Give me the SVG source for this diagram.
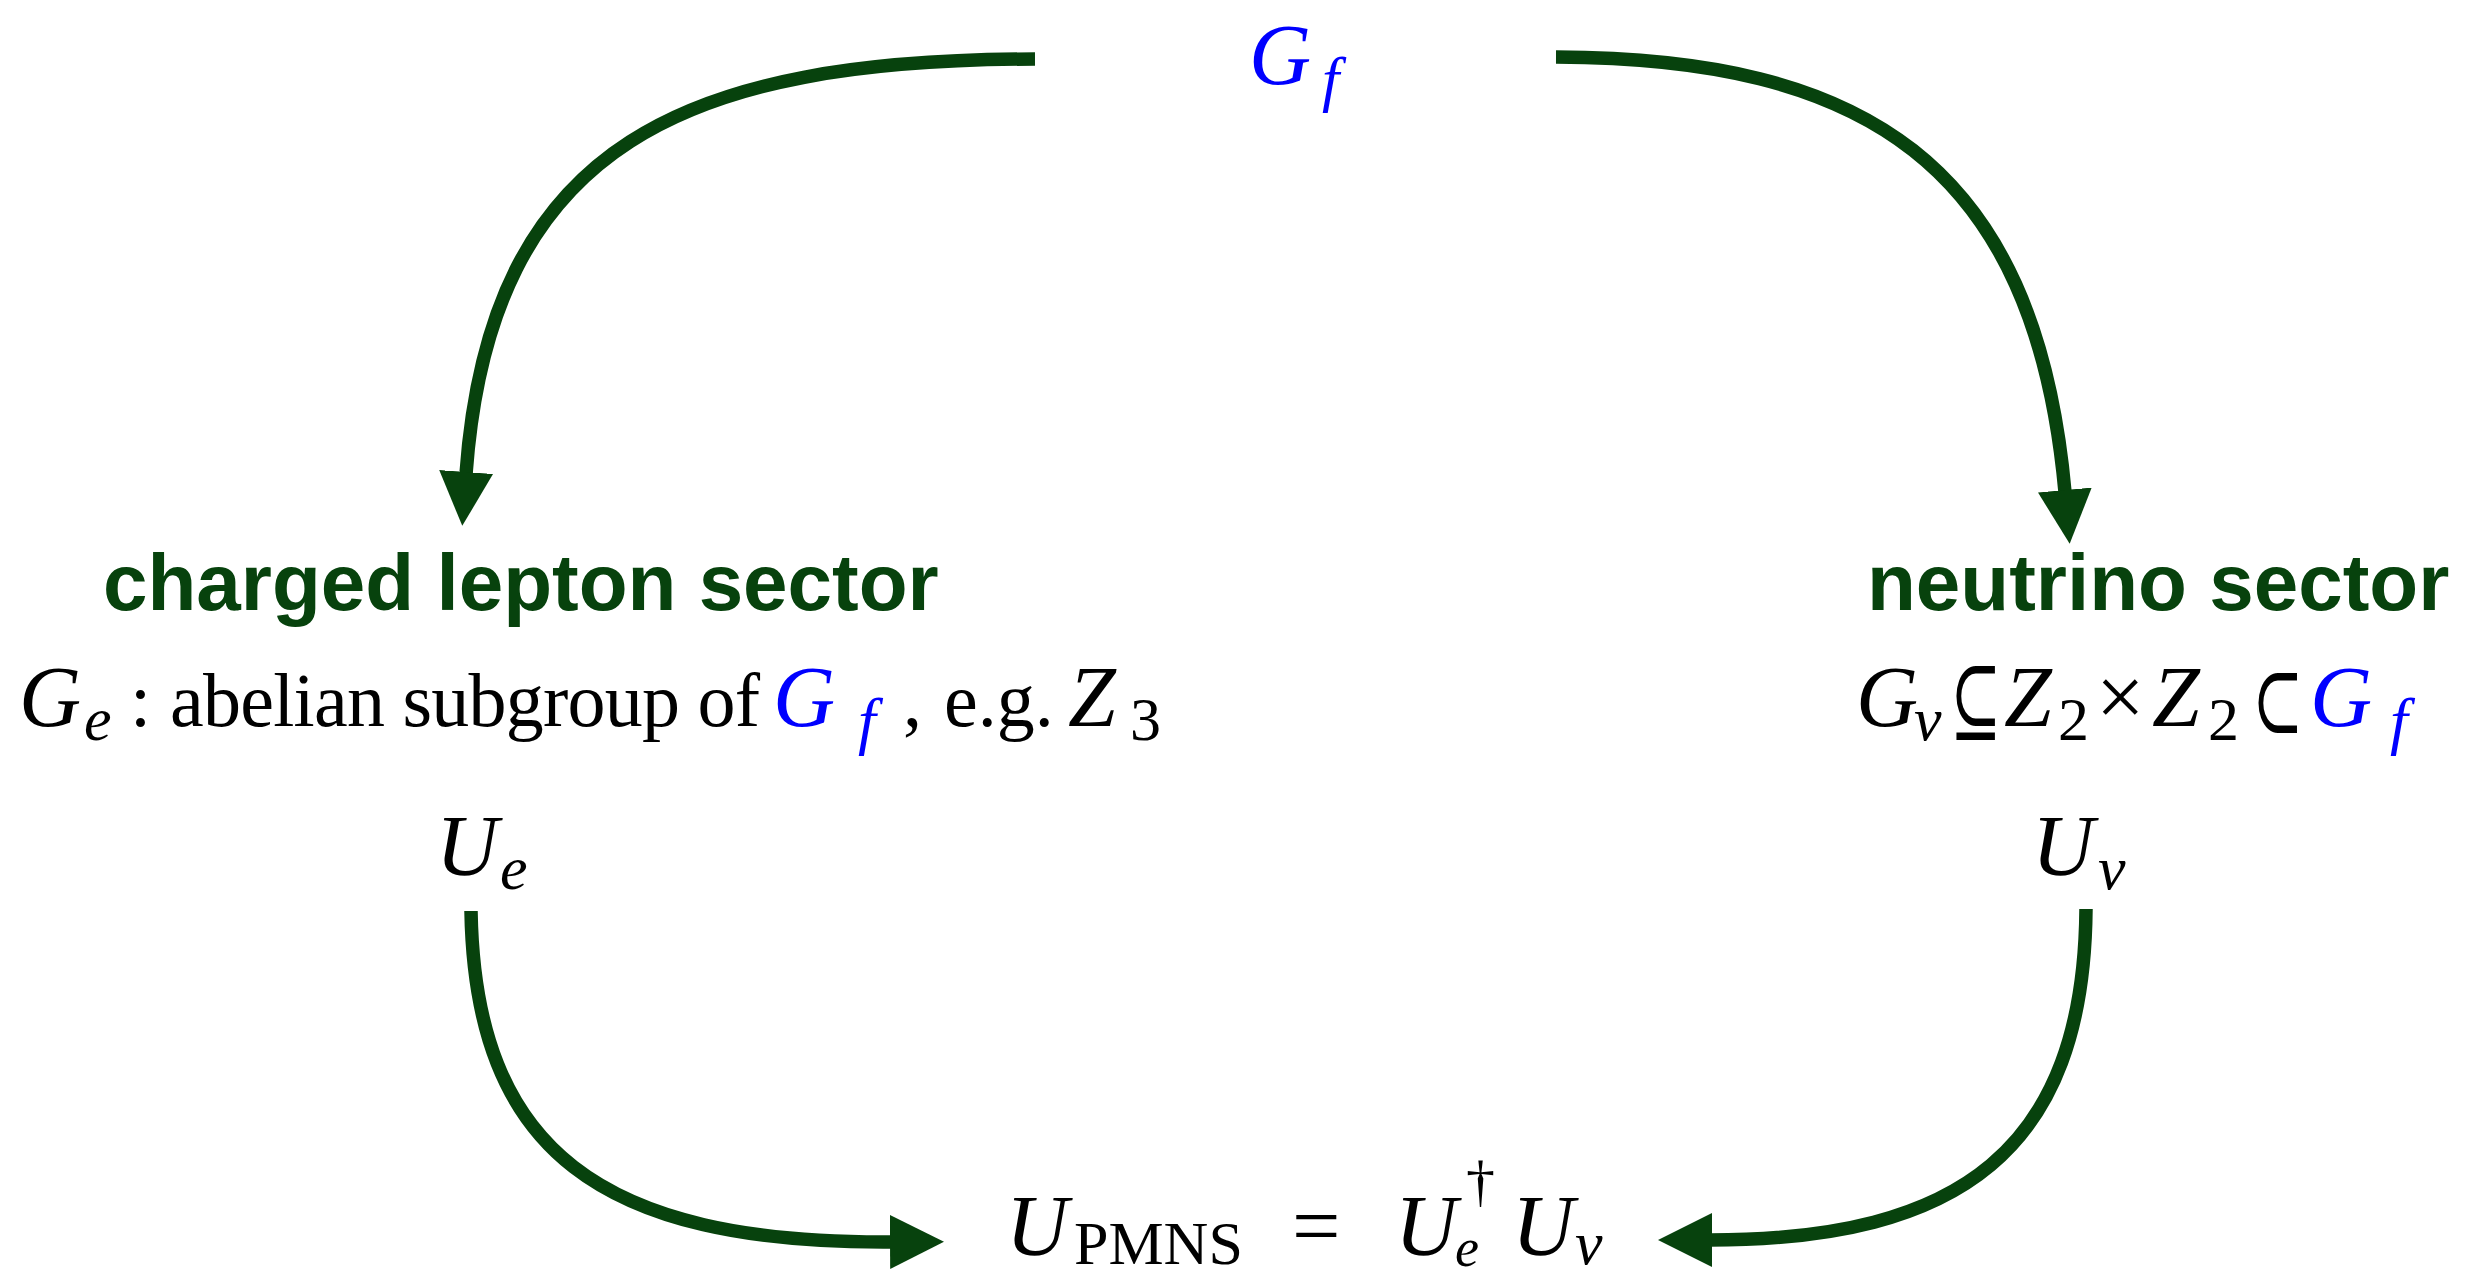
<svg xmlns="http://www.w3.org/2000/svg" width="2485" height="1278" viewBox="0 0 2485 1278">
<style>
.m{font-family:"Liberation Serif","DejaVu Serif",serif;fill:#000}
.i{font-style:italic}
.b{fill:#0000ff}
.big{font-size:86px}
.txt{font-size:76px}
.sub{font-size:62px}
.rel{font-family:"DejaVu Serif",serif;font-size:96px;fill:#000}
.h{font-family:"Liberation Sans",Arial,sans-serif;font-weight:bold;font-size:80px;fill:#07420d}
.c{fill:none;stroke:#07420d;stroke-width:13.5}
</style>
<defs>
<marker id="ah" markerUnits="userSpaceOnUse" markerWidth="56" markerHeight="54" refX="2" refY="27" orient="auto">
<path d="M0,0 L54,27 L0,54 z" fill="#07420d"/>
</marker>
</defs>
<g id="connectors">
<path class="c" d="M1035,59 C690,60 490,140 466,474" marker-end="url(#ah)"/>
<path class="c" d="M1556,57 C1860,58 2035,160 2065,492" marker-end="url(#ah)"/>
<path class="c" d="M471,911 C475,1150 600,1244 892,1242" marker-end="url(#ah)"/>
<path class="c" d="M2086,909 C2084,1150 1960,1240 1710,1240" marker-end="url(#ah)"/>
</g>
<g id="node-Gf">
<text class="m i b big" x="1249" y="84">G</text>
<text class="m i b sub" x="1322" y="100">f</text>
</g>
<g id="node-charged">
<text class="h" x="103" y="610">charged lepton sector</text>
<text class="m i big" x="19" y="726">G</text>
<text class="m i sub" x="84" y="740">e</text>
<text class="m txt" x="130" y="726">:</text>
<text class="m txt" x="170" y="726" textLength="590">abelian subgroup of</text>
<text class="m i b big" x="773" y="726">G</text>
<text class="m i b" style="font-size:64px" x="858" y="742">f</text>
<text class="m txt" x="903" y="726">,</text>
<text class="m txt" x="944" y="726">e.g.</text>
<text class="m i big" x="1068" y="726">Z</text>
<text class="m sub" x="1130" y="740">3</text>
<text class="m i big" x="436" y="875">U</text>
<text class="m i sub" x="500" y="889">e</text>
</g>
<g id="node-neutrino">
<text class="h" x="1867" y="610">neutrino sector</text>
<text class="m i big" x="1856" y="726">G</text>
<text class="m i sub" x="1914" y="740">ν</text>
<text class="rel" transform="translate(1950,733) scale(0.64,1)">⊆</text>
<text class="m i big" x="2004" y="726">Z</text>
<text class="m sub" x="2058" y="740">2</text>
<text class="m big" x="2096" y="726">×</text>
<text class="m i big" x="2152" y="726">Z</text>
<text class="m sub" x="2208" y="740">2</text>
<text class="rel" transform="translate(2252,733) scale(0.64,1)">⊂</text>
<text class="m i b big" x="2310" y="726">G</text>
<text class="m i b" style="font-size:64px" x="2390" y="742">f</text>
<text class="m i big" x="2032" y="875">U</text>
<text class="m i sub" x="2098" y="889">ν</text>
</g>
<g id="node-pmns">
<text class="m i big" x="1006" y="1255">U</text>
<text class="m" style="font-size:62px" x="1074" y="1264">PMNS</text>
<text class="m big" x="1292" y="1255">=</text>
<text class="m i big" x="1395" y="1255">U</text>
<text class="m" style="font-size:58px" x="1466" y="1200">†</text>
<text class="m i" style="font-size:54px" x="1455" y="1266">e</text>
<text class="m i big" x="1512" y="1255">U</text>
<text class="m i sub" x="1575" y="1264">ν</text>
</g>
</svg>
